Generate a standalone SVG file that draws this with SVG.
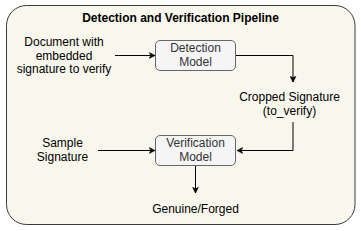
<svg xmlns="http://www.w3.org/2000/svg" width="361" height="231" viewBox="0 0 361 231">
<style>
text{font-family:"Liberation Sans",Arial,sans-serif;font-size:12px;fill:#000;text-anchor:middle}
.title{font-weight:bold}
.node{fill:#f5f5f5;stroke:#666666;stroke-width:1}
.node-label{fill:#333333}
.edge{fill:none;stroke:#000;stroke-width:1}
</style>
<defs>
<marker id="arrow" viewBox="0 0 10 10" refX="9" refY="5" markerWidth="7" markerHeight="7" markerUnits="userSpaceOnUse" orient="auto">
<path d="M1,1 L9,5 L1,9 L3,5 Z" fill="#000" stroke="#000" stroke-width="1"/>
</marker>
</defs>
<g id="container">
<rect x="6.5" y="5.5" width="348.5" height="219" rx="20" ry="20" fill="#f9f7ed" stroke="#36393d" stroke-width="1"/>
<text class="title" x="180.5" y="22">Detection and Verification Pipeline</text>
</g>
<g id="connectors">
<path class="edge" d="M115,55.5 L155,55.5" marker-end="url(#arrow)"/>
<path class="edge" d="M236,55.5 L293,55.5 L293,82" marker-end="url(#arrow)"/>
<path class="edge" d="M293,122 L293,150.5 L237,150.5" marker-end="url(#arrow)"/>
<path class="edge" d="M98,150.5 L155,150.5" marker-end="url(#arrow)"/>
<path class="edge" d="M195.5,165.5 L195.5,193" marker-end="url(#arrow)"/>
</g>
<g id="document-input">
<text x="64" y="46">Document with</text>
<text x="64" y="59.5">embedded</text>
<text x="64" y="73">signature to verify</text>
</g>
<g id="detection-model">
<rect class="node" x="155.5" y="40.5" width="80" height="30" rx="4.5" ry="4.5"/>
<text class="node-label" x="195.5" y="52">Detection</text>
<text class="node-label" x="195.5" y="66">Model</text>
</g>
<g id="cropped-signature">
<text x="289.5" y="101">Cropped Signature</text>
<text x="289.5" y="115">(to_verify)</text>
</g>
<g id="sample-signature">
<text x="62.5" y="147">Sample</text>
<text x="62.5" y="161">Signature</text>
</g>
<g id="verification-model">
<rect class="node" x="155.5" y="135.5" width="80" height="30" rx="4.5" ry="4.5"/>
<text class="node-label" x="195.5" y="147">Verification</text>
<text class="node-label" x="195.5" y="161">Model</text>
</g>
<g id="result">
<text x="195.5" y="213">Genuine/Forged</text>
</g>
</svg>
